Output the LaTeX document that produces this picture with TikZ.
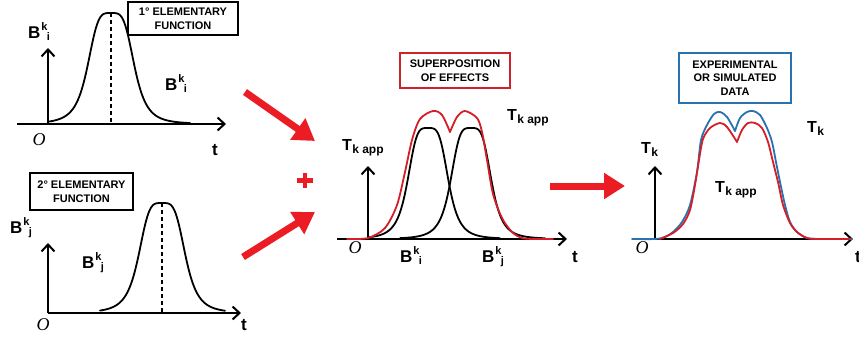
\documentclass[tikz,border=0pt]{standalone}
\usepackage{fontspec}
\setmainfont{Liberation Sans}
\newfontfamily\serifit{Liberation Serif}
\usetikzlibrary{arrows.meta}
\definecolor{arrred}{RGB}{236,28,36}
\definecolor{boxred}{RGB}{205,35,45}
\definecolor{curvered}{RGB}{212,30,40}
\definecolor{dblue}{RGB}{40,115,175}
\newcommand\Lbl[3]{{\fontsize{17}{17}\selectfont #1}\kern0.8pt\raisebox{8pt}{\fontsize{11}{11}\selectfont #2}\kern-0.6pt\raisebox{-2.5pt}{\fontsize{11}{11}\selectfont #3}}
\newcommand\Tlbl[1]{{\fontsize{16}{16}\selectfont T}\kern0.3pt\raisebox{-3pt}{\fontsize{12}{12}\selectfont #1}}
\newcommand\Olbl{{\serifit\itshape\fontsize{18}{18}\selectfont O}}
\newcommand\tlbl{{\fontsize{17}{17}\selectfont t}}
\tikzset{
  lbl/.style={inner sep=0pt, font=\bfseries},
  axisln/.style={line width=2pt, -{Straight Barb[length=7pt,width=13pt]}},
  curveln/.style={line width=1.8pt, line join=round, line cap=round},
  dashln/.style={line width=1.5pt, dash pattern=on 4pt off 3pt},
  fbox/.style={draw, line width=1.5pt, inner sep=0pt, align=center, font=\fontsize{11}{13.5}\selectfont\bfseries},
  bigarrow/.style={arrred, line width=7pt, -{Triangle[length=21pt,width=25pt]}},
  declare function={bw(\z)=1/(1+\z*\z*\z*\z);}
}
\begin{document}
\begin{tikzpicture}[x=1pt,y=-1pt]
\useasboundingbox (0,0) rectangle (859,345);

% ---------- Panel 1 ----------
\coordinate (p1o) at (48,124);
\coordinate (p1xl) at (17,124);
\coordinate (p1xe) at (226,124);
\coordinate (p1ye) at (48,48);
\draw[line width=2pt] (p1xl) -- (p1o);
\draw[axisln] (p1o) -- (p1xe);
\draw[axisln] (p1o) -- (p1ye);
\draw[curveln] plot[domain=48:190, samples=120] (\x,{124-111*bw((\x-111)/24)});
\coordinate (d1t) at (111,13);
\coordinate (d1b) at (111,124);
\draw[dashln] (d1t) -- (d1b);
\node[fbox, minimum width=110pt, minimum height=33pt] (box1) at (183,18.5) {1° ELEMENTARY\\FUNCTION};
\node[lbl, anchor=base west] (b1a) at (28,38) {\Lbl{B}{k}{i}};
\node[lbl, anchor=base west] (b1b) at (165,90) {\Lbl{B}{k}{i}};
\node[inner sep=0pt] (o1) at (39,140) {\Olbl};
\node[lbl, anchor=base west] (t1) at (212,155) {\tlbl};

% ---------- Panel 2 ----------
\coordinate (p2o) at (48,313);
\coordinate (p2xe) at (241,313);
\coordinate (p2ye) at (48,243);
\draw[axisln] (p2o) -- (p2xe);
\draw[axisln] (p2o) -- (p2ye);
\draw[curveln] plot[domain=100:225, samples=120] (\x,{313-110*bw((\x-162)/24)});
\coordinate (d2t) at (162,203);
\coordinate (d2b) at (162,313);
\draw[dashln] (d2t) -- (d2b);
\node[fbox, minimum width=103pt, minimum height=37pt] (box2) at (81.5,191.5) {2° ELEMENTARY\\FUNCTION};
\node[lbl, anchor=base west] (b2a) at (10,233) {\Lbl{B}{k}{j}};
\node[lbl, anchor=base west] (b2b) at (82,268) {\Lbl{B}{k}{j}};
\node[inner sep=0pt] (o2) at (43,325) {\Olbl};
\node[lbl, anchor=base west] (t2) at (241,330) {\tlbl};

% ---------- red arrows and plus ----------
\coordinate (a1s) at (245,92);
\coordinate (a1e) at (315,141);
\coordinate (a2s) at (243,257);
\coordinate (a2e) at (315,212);
\coordinate (a3s) at (550,186);
\coordinate (a3e) at (625,186);
\draw[bigarrow] (a1s) -- (a1e);
\draw[bigarrow] (a2s) -- (a2e);
\draw[bigarrow] (a3s) -- (a3e);
\coordinate (plL) at (297,180.5);
\coordinate (plR) at (313,180.5);
\coordinate (plT) at (305,173);
\coordinate (plB) at (305,188);
\draw[arrred, line width=4.5pt] (plL) -- (plR) (plT) -- (plB);

% ---------- Panel 3 ----------
\coordinate (p3o) at (368,239);
\coordinate (p3xl) at (337,239);
\coordinate (p3xe) at (567,239);
\coordinate (p3ye) at (368,166);
\draw[line width=2pt] (p3xl) -- (p3o);
\draw[axisln] (p3o) -- (p3xe);
\draw[axisln] (p3o) -- (p3ye);
\draw[curveln] plot[domain=368:500, samples=120] (\x,{239-111*bw((\x-428)/21)});
\draw[curveln] plot[domain=400:545, samples=120] (\x,{239-111*bw((\x-471)/21)});
\draw[curveln, curvered] plot[smooth] coordinates {(347,239) (368,238) (385,228) (397,205) (405,172) (412,140) (420,119) (433,111) (442,115) (450,132)};
\draw[curveln, curvered] plot[smooth] coordinates {(450,132) (457,117) (465,111) (477,118) (482,132) (487,160) (493,194) (502,218) (512,232) (522,238) (535,239) (553,239)};
\node[fbox, draw=boxred, minimum width=110pt, minimum height=35pt] (box3) at (455,70.5) {SUPERPOSITION\\OF EFFECTS};
\node[lbl, anchor=base west] (t3a) at (342,150) {\Tlbl{k app}};
\node[lbl, anchor=base west] (t3b) at (507,120) {\Tlbl{k app}};
\node[lbl, anchor=base west] (b3a) at (400,262) {\Lbl{B}{k}{i}};
\node[lbl, anchor=base west] (b3b) at (482,262) {\Lbl{B}{k}{j}};
\node[inner sep=0pt] (o3) at (355,248) {\Olbl};
\node[lbl, anchor=base west] (t3) at (572,262) {\tlbl};

% ---------- Panel 4 ----------
\coordinate (p4o) at (655,239);
\coordinate (p4xe) at (853,239);
\coordinate (p4ye) at (655,166);
\draw[axisln] (p4o) -- (p4xe);
\draw[axisln] (p4o) -- (p4ye);
\draw[curveln, dblue] plot[smooth] coordinates {(632,239) (655,239) (665,237) (673,232) (682,222) (690,205) (697,172) (701,140) (707,125) (714,114) (720,112) (727,117) (735,131)};
\draw[curveln, dblue] plot[smooth] coordinates {(735,131) (740,118) (747,112) (753,111) (760,115) (767,128) (772,142) (776,162) (780,182) (785,205) (790,222) (797,232) (807,238) (820,239) (852,239)};
\draw[curveln, curvered] plot[smooth] coordinates {(660,239) (673,233) (683,224) (690,210) (695,185) (699,160) (703,139) (710,128) (720,123) (727,127) (737,142)};
\draw[curveln, curvered] plot[smooth] coordinates {(737,142) (742,130) (748,123) (755,123) (762,128) (768,142) (773,162) (778,182) (783,205) (790,223) (797,232) (807,238) (820,239) (850,239)};
\node[fbox, draw=dblue, minimum width=112pt, minimum height=50pt] (box4) at (735,78) {EXPERIMENTAL\\OR SIMULATED\\DATA};
\node[lbl, anchor=base west] (t4a) at (641,153) {\Tlbl{k}};
\node[lbl, anchor=base west] (t4b) at (807,132) {\Tlbl{k}};
\node[lbl, anchor=base west] (t4c) at (715,192) {\Tlbl{k app}};
\node[inner sep=0pt] (o4) at (642,248) {\Olbl};
\node[lbl, anchor=base west] (t4) at (855,262) {\tlbl};
\end{tikzpicture}
\end{document}
